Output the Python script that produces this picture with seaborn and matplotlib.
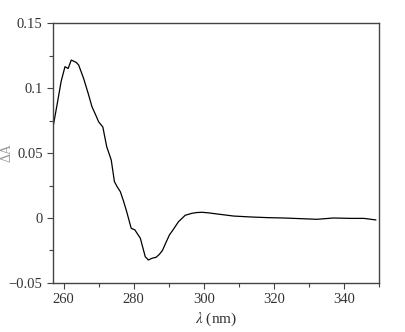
import pandas as pd
import numpy as np
import matplotlib
matplotlib.use('Agg')
import matplotlib.pyplot as plt
import seaborn as sns
from matplotlib.ticker import MultipleLocator

# CD spectrum
wavelength = [257.1, 258.2, 259.3, 260.4, 261.3, 262.2, 263.6, 264.3, 265.7, 267.0, 268.1,
              269.2, 270.0, 271.2, 272.3, 273.6, 274.5, 275.3, 276.2, 277.1, 278.0, 279.3,
              280.3, 281.9, 283.3, 284.2, 285.2, 286.4, 287.3, 288.2, 289.1, 290.2, 291.2,
              292.8, 294.7, 296.6, 298.0, 299.5, 301.5, 303.8, 308.5, 313.3, 318.0, 322.8,
              327.6, 332.3, 337.0, 341.9, 345.7, 349.1]
delta_a = [0.0715, 0.088, 0.105, 0.1164, 0.115, 0.1215, 0.1197, 0.1177, 0.1075, 0.096, 0.0856,
           0.079, 0.074, 0.070, 0.0549, 0.0446, 0.028, 0.024, 0.0202, 0.013, 0.0049, -0.008,
           -0.009, -0.0156, -0.0298, -0.0323, -0.031, -0.0302, -0.028, -0.025, -0.0195, -0.013,
           -0.0092, -0.0028, 0.0021, 0.0036, 0.0042, 0.0044, 0.0039, 0.0031, 0.0015, 0.0008,
           0.0003, 0.0, -0.0005, -0.001, 0.0, -0.0003, -0.0003, -0.0015]
x_ticks = [260, 280, 300, 320, 340]
y_ticks = [-0.05, 0, 0.05, 0.1, 0.15]
y_labels = ['\u22120.05', '0', '0.05', '0.1', '0.15']

df = pd.DataFrame({'wl': wavelength, 'da': delta_a})

sns.set_style('ticks')
plt.rcParams['font.family'] = ['Liberation Serif', 'DejaVu Serif']
plt.rcParams['mathtext.fontset'] = 'stix'

fig = plt.figure(figsize=(4.05, 3.32), dpi=100)
ax = fig.add_axes([0.131, 0.1476, 0.805, 0.7831])

sns.lineplot(data=df, x='wl', y='da', color='black', linewidth=0.9, ax=ax)

ax.set_xlim(257, 350)
ax.set_ylim(-0.05, 0.15)
ax.set_xticks(x_ticks)
ax.xaxis.set_minor_locator(MultipleLocator(10))
ax.set_yticks(y_ticks)
ax.set_yticklabels(y_labels)
ax.yaxis.set_minor_locator(MultipleLocator(0.025))

for s in ax.spines.values():
    s.set_color('#444444')
    s.set_linewidth(1.0)

ax.tick_params(which='both', direction='out', colors='#444444', labelcolor='#333333',
               labelsize=10.5, top=False, right=False)
ax.tick_params(which='major', length=4, width=0.8)
ax.tick_params(which='minor', length=3, width=0.8)

ax.set_xlabel(r'$\lambda$ (nm)', fontsize=11, color='#333333', labelpad=3)
ax.set_ylabel('\u0394A', fontsize=10, color='#999999')
ax.yaxis.set_label_coords(-0.122, 0.5)

fig.savefig('out.png', dpi=100)
